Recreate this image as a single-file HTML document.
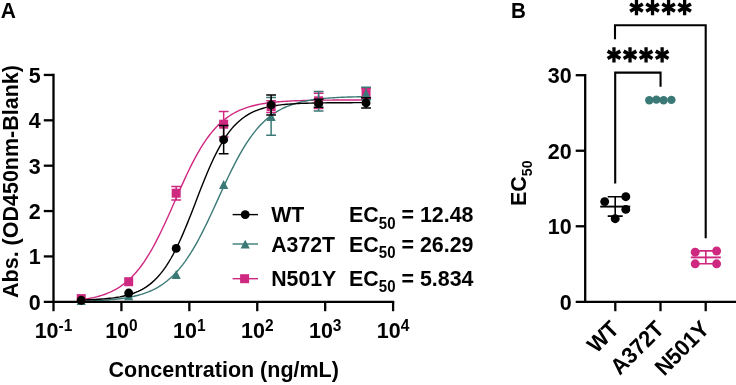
<!DOCTYPE html>
<html><head><meta charset="utf-8"><title>EC50 binding curves</title>
<style>html,body{margin:0;padding:0;background:#fff;}svg{display:block;will-change:transform;opacity:0.999;}</style>
</head><body>
<svg width="736" height="385" viewBox="0 0 736 385">
<rect width="736" height="385" fill="#fff"/>
<g font-family="'Liberation Sans', sans-serif" font-weight="bold" fill="#000">
<text transform="translate(0.8,17.9) scale(1,1.06)" font-size="21">A</text>
<text transform="translate(511.0,17.9) scale(1,1.06)" font-size="20.6">B</text>
<path d="M81.23,299.72 L83.26,299.43 L85.30,299.13 L87.33,298.79 L89.37,298.42 L91.40,298.02 L93.44,297.59 L95.47,297.11 L97.50,296.59 L99.54,296.02 L101.57,295.41 L103.61,294.73 L105.64,294.00 L107.68,293.21 L109.71,292.35 L111.75,291.41 L113.78,290.40 L115.82,289.30 L117.85,288.10 L119.89,286.82 L121.92,285.43 L123.95,283.93 L125.99,282.31 L128.02,280.57 L130.06,278.70 L132.09,276.70 L134.13,274.56 L136.16,272.27 L138.20,269.82 L140.23,267.23 L142.27,264.47 L144.30,261.56 L146.33,258.48 L148.37,255.24 L150.40,251.83 L152.44,248.27 L154.47,244.55 L156.51,240.69 L158.54,236.69 L160.58,232.56 L162.61,228.31 L164.65,223.95 L166.68,219.50 L168.72,214.99 L170.75,210.41 L172.78,205.80 L174.82,201.17 L176.85,196.54 L178.89,191.93 L180.92,187.36 L182.96,182.84 L184.99,178.40 L187.03,174.05 L189.06,169.81 L191.10,165.68 L193.13,161.69 L195.17,157.83 L197.20,154.13 L199.23,150.57 L201.27,147.18 L203.30,143.95 L205.34,140.88 L207.37,137.97 L209.41,135.23 L211.44,132.64 L213.48,130.21 L215.51,127.93 L217.55,125.79 L219.58,123.80 L221.62,121.94 L223.65,120.20 L225.68,118.59 L227.72,117.10 L229.75,115.72 L231.79,114.43 L233.82,113.25 L235.86,112.15 L237.89,111.14 L239.93,110.21 L241.96,109.35 L244.00,108.56 L246.03,107.84 L248.07,107.17 L250.10,106.55 L252.13,105.99 L254.17,105.47 L256.20,105.00 L258.24,104.56 L260.27,104.17 L262.31,103.80 L264.34,103.47 L266.38,103.16 L268.41,102.88 L270.45,102.62 L272.48,102.39 L274.51,102.17 L276.55,101.98 L278.58,101.80 L280.62,101.63 L282.65,101.48 L284.69,101.35 L286.72,101.22 L288.76,101.11 L290.79,101.00 L292.83,100.91 L294.86,100.82 L296.90,100.74 L298.93,100.67 L300.96,100.60 L303.00,100.54 L305.03,100.48 L307.07,100.43 L309.10,100.39 L311.14,100.35 L313.17,100.31 L315.21,100.27 L317.24,100.24 L319.28,100.21 L321.31,100.18 L323.35,100.16 L325.38,100.14 L327.41,100.12 L329.45,100.10 L331.48,100.08 L333.52,100.07 L335.55,100.05 L337.59,100.04 L339.62,100.03 L341.66,100.02 L343.69,100.01 L345.73,100.00 L347.76,99.99 L349.80,99.98 L351.83,99.97 L353.86,99.97 L355.90,99.96 L357.93,99.96 L359.97,99.95 L362.00,99.95 L364.04,99.94 L366.07,99.94" fill="none" stroke="#cf2881" stroke-width="1.4"/>
<path d="M81.23,301.21 L83.26,301.16 L85.30,301.10 L87.33,301.04 L89.37,300.97 L91.40,300.89 L93.44,300.81 L95.47,300.72 L97.50,300.62 L99.54,300.52 L101.57,300.40 L103.61,300.27 L105.64,300.14 L107.68,299.99 L109.71,299.82 L111.75,299.65 L113.78,299.45 L115.82,299.24 L117.85,299.01 L119.89,298.76 L121.92,298.49 L123.95,298.19 L125.99,297.87 L128.02,297.52 L130.06,297.14 L132.09,296.73 L134.13,296.28 L136.16,295.79 L138.20,295.27 L140.23,294.69 L142.27,294.07 L144.30,293.39 L146.33,292.66 L148.37,291.87 L150.40,291.02 L152.44,290.09 L154.47,289.09 L156.51,288.02 L158.54,286.85 L160.58,285.60 L162.61,284.25 L164.65,282.81 L166.68,281.25 L168.72,279.58 L170.75,277.80 L172.78,275.89 L174.82,273.86 L176.85,271.69 L178.89,269.38 L180.92,266.93 L182.96,264.34 L184.99,261.60 L187.03,258.71 L189.06,255.67 L191.10,252.48 L193.13,249.14 L195.17,245.66 L197.20,242.04 L199.23,238.29 L201.27,234.40 L203.30,230.40 L205.34,226.30 L207.37,222.09 L209.41,217.81 L211.44,213.45 L213.48,209.04 L215.51,204.60 L217.55,200.13 L219.58,195.66 L221.62,191.20 L223.65,186.77 L225.68,182.39 L227.72,178.06 L229.75,173.82 L231.79,169.66 L233.82,165.61 L235.86,161.67 L237.89,157.85 L239.93,154.16 L241.96,150.61 L244.00,147.20 L246.03,143.94 L248.07,140.83 L250.10,137.87 L252.13,135.05 L254.17,132.39 L256.20,129.87 L258.24,127.49 L260.27,125.26 L262.31,123.16 L264.34,121.19 L266.38,119.35 L268.41,117.62 L270.45,116.01 L272.48,114.51 L274.51,113.12 L276.55,111.82 L278.58,110.61 L280.62,109.50 L282.65,108.46 L284.69,107.50 L286.72,106.61 L288.76,105.79 L290.79,105.03 L292.83,104.33 L294.86,103.68 L296.90,103.08 L298.93,102.53 L300.96,102.03 L303.00,101.56 L305.03,101.13 L307.07,100.73 L309.10,100.37 L311.14,100.03 L313.17,99.72 L315.21,99.44 L317.24,99.18 L319.28,98.94 L321.31,98.72 L323.35,98.52 L325.38,98.33 L327.41,98.16 L329.45,98.01 L331.48,97.86 L333.52,97.73 L335.55,97.61 L337.59,97.50 L339.62,97.40 L341.66,97.31 L343.69,97.22 L345.73,97.14 L347.76,97.07 L349.80,97.00 L351.83,96.94 L353.86,96.89 L355.90,96.84 L357.93,96.79 L359.97,96.75 L362.00,96.71 L364.04,96.67 L366.07,96.64" fill="none" stroke="#3a7976" stroke-width="1.4"/>
<path d="M81.23,299.96 L83.26,299.91 L85.30,299.85 L87.33,299.78 L89.37,299.71 L91.40,299.63 L93.44,299.53 L95.47,299.43 L97.50,299.32 L99.54,299.19 L101.57,299.05 L103.61,298.90 L105.64,298.73 L107.68,298.54 L109.71,298.32 L111.75,298.09 L113.78,297.83 L115.82,297.54 L117.85,297.21 L119.89,296.86 L121.92,296.46 L123.95,296.02 L125.99,295.54 L128.02,295.00 L130.06,294.40 L132.09,293.74 L134.13,293.02 L136.16,292.21 L138.20,291.33 L140.23,290.35 L142.27,289.28 L144.30,288.10 L146.33,286.80 L148.37,285.38 L150.40,283.83 L152.44,282.12 L154.47,280.27 L156.51,278.25 L158.54,276.05 L160.58,273.67 L162.61,271.10 L164.65,268.33 L166.68,265.35 L168.72,262.15 L170.75,258.74 L172.78,255.12 L174.82,251.27 L176.85,247.22 L178.89,242.96 L180.92,238.50 L182.96,233.87 L184.99,229.07 L187.03,224.12 L189.06,219.05 L191.10,213.89 L193.13,208.65 L195.17,203.38 L197.20,198.09 L199.23,192.82 L201.27,187.61 L203.30,182.47 L205.34,177.43 L207.37,172.53 L209.41,167.78 L211.44,163.19 L213.48,158.80 L215.51,154.60 L217.55,150.61 L219.58,146.83 L221.62,143.27 L223.65,139.92 L225.68,136.79 L227.72,133.88 L229.75,131.17 L231.79,128.65 L233.82,126.33 L235.86,124.19 L237.89,122.22 L239.93,120.41 L241.96,118.75 L244.00,117.24 L246.03,115.86 L248.07,114.60 L250.10,113.45 L252.13,112.41 L254.17,111.46 L256.20,110.60 L258.24,109.82 L260.27,109.11 L262.31,108.48 L264.34,107.90 L266.38,107.38 L268.41,106.91 L270.45,106.48 L272.48,106.10 L274.51,105.75 L276.55,105.44 L278.58,105.16 L280.62,104.90 L282.65,104.67 L284.69,104.47 L286.72,104.28 L288.76,104.12 L290.79,103.97 L292.83,103.83 L294.86,103.71 L296.90,103.60 L298.93,103.50 L300.96,103.41 L303.00,103.33 L305.03,103.26 L307.07,103.20 L309.10,103.14 L311.14,103.09 L313.17,103.04 L315.21,103.00 L317.24,102.96 L319.28,102.93 L321.31,102.90 L323.35,102.87 L325.38,102.84 L327.41,102.82 L329.45,102.80 L331.48,102.78 L333.52,102.77 L335.55,102.75 L337.59,102.74 L339.62,102.73 L341.66,102.72 L343.69,102.71 L345.73,102.70 L347.76,102.69 L349.80,102.69 L351.83,102.68 L353.86,102.67 L355.90,102.67 L357.93,102.67 L359.97,102.66 L362.00,102.66 L364.04,102.65 L366.07,102.65" fill="none" stroke="#000000" stroke-width="1.4"/>
<rect x="76.73" y="294.10" width="9" height="9" fill="#cf2881"/>
<rect x="124.20" y="277.20" width="9" height="9" fill="#cf2881"/>
<path d="M176.18,186.40 V200.00 M171.28,186.40 H181.08 M171.28,200.00 H181.08" stroke="#cf2881" stroke-width="1.5" fill="none"/>
<rect x="171.68" y="188.70" width="9" height="9" fill="#cf2881"/>
<path d="M223.65,111.40 V137.00 M218.75,111.40 H228.55 M218.75,137.00 H228.55" stroke="#cf2881" stroke-width="1.5" fill="none"/>
<rect x="219.15" y="119.70" width="9" height="9" fill="#cf2881"/>
<path d="M271.12,100.80 V112.40 M266.22,100.80 H276.02 M266.22,112.40 H276.02" stroke="#cf2881" stroke-width="1.5" fill="none"/>
<rect x="266.62" y="102.10" width="9" height="9" fill="#cf2881"/>
<path d="M318.60,93.15 V108.45 M313.70,93.15 H323.50 M313.70,108.45 H323.50" stroke="#cf2881" stroke-width="1.5" fill="none"/>
<rect x="314.10" y="96.30" width="9" height="9" fill="#cf2881"/>
<path d="M366.07,88.60 V98.60 M361.17,88.60 H370.97 M361.17,98.60 H370.97" stroke="#cf2881" stroke-width="1.5" fill="none"/>
<rect x="361.57" y="89.10" width="9" height="9" fill="#cf2881"/>
<path d="M81.23,296.00 L85.83,304.90 L76.63,304.90 Z" fill="#3a7976"/>
<path d="M128.70,291.30 L133.30,300.20 L124.10,300.20 Z" fill="#3a7976"/>
<path d="M176.18,270.00 L180.78,278.90 L171.58,278.90 Z" fill="#3a7976"/>
<path d="M223.65,180.00 L228.25,188.90 L219.05,188.90 Z" fill="#3a7976"/>
<path d="M271.12,97.60 V135.20 M266.22,97.60 H276.02 M266.22,135.20 H276.02" stroke="#3a7976" stroke-width="1.5" fill="none"/>
<path d="M271.12,112.10 L275.72,121.00 L266.52,121.00 Z" fill="#3a7976"/>
<path d="M318.60,91.60 V111.10 M313.70,91.60 H323.50 M313.70,111.10 H323.50" stroke="#3a7976" stroke-width="1.5" fill="none"/>
<path d="M318.60,97.05 L323.20,105.95 L314.00,105.95 Z" fill="#3a7976"/>
<path d="M366.07,87.30 V99.70 M361.17,87.30 H370.97 M361.17,99.70 H370.97" stroke="#3a7976" stroke-width="1.5" fill="none"/>
<path d="M366.07,89.20 L370.67,98.10 L361.47,98.10 Z" fill="#3a7976"/>
<circle cx="81.23" cy="300.30" r="4.45" fill="#000000"/>
<circle cx="128.70" cy="293.05" r="4.45" fill="#000000"/>
<circle cx="176.18" cy="248.40" r="4.45" fill="#000000"/>
<path d="M223.65,125.60 V153.80 M218.75,125.60 H228.55 M218.75,153.80 H228.55" stroke="#000000" stroke-width="1.5" fill="none"/>
<circle cx="223.65" cy="139.70" r="4.45" fill="#000000"/>
<path d="M271.12,94.90 V114.90 M266.22,94.90 H276.02 M266.22,114.90 H276.02" stroke="#000000" stroke-width="1.5" fill="none"/>
<circle cx="271.12" cy="104.90" r="4.45" fill="#000000"/>
<path d="M318.60,99.30 V107.30 M313.70,99.30 H323.50 M313.70,107.30 H323.50" stroke="#000000" stroke-width="1.5" fill="none"/>
<circle cx="318.60" cy="103.30" r="4.45" fill="#000000"/>
<path d="M366.07,97.70 V108.10 M361.17,97.70 H370.97 M361.17,108.10 H370.97" stroke="#000000" stroke-width="1.5" fill="none"/>
<circle cx="366.07" cy="102.90" r="4.45" fill="#000000"/>
<path d="M53.5,73.80 V301.8 M43.8,301.8 H394.25" stroke="#000" stroke-width="2.3" fill="none"/>
<path d="M43.8,256.43 H53.5" stroke="#000" stroke-width="2.3"/>
<path d="M43.8,211.06 H53.5" stroke="#000" stroke-width="2.3"/>
<path d="M43.8,165.69 H53.5" stroke="#000" stroke-width="2.3"/>
<path d="M43.8,120.32 H53.5" stroke="#000" stroke-width="2.3"/>
<path d="M43.8,74.95 H53.5" stroke="#000" stroke-width="2.3"/>
<path d="M53.50,301.8 V311.2" stroke="#000" stroke-width="2.3"/>
<path d="M121.42,301.8 V311.2" stroke="#000" stroke-width="2.3"/>
<path d="M189.34,301.8 V311.2" stroke="#000" stroke-width="2.3"/>
<path d="M257.26,301.8 V311.2" stroke="#000" stroke-width="2.3"/>
<path d="M325.18,301.8 V311.2" stroke="#000" stroke-width="2.3"/>
<path d="M393.10,301.8 V311.2" stroke="#000" stroke-width="2.3"/>
<text transform="translate(40.8,309.7) scale(1,1.06)" font-size="21.5" text-anchor="end">0</text>
<text transform="translate(40.8,264.33) scale(1,1.06)" font-size="21.5" text-anchor="end">1</text>
<text transform="translate(40.8,218.96) scale(1,1.06)" font-size="21.5" text-anchor="end">2</text>
<text transform="translate(40.8,173.59) scale(1,1.06)" font-size="21.5" text-anchor="end">3</text>
<text transform="translate(40.8,128.22) scale(1,1.06)" font-size="21.5" text-anchor="end">4</text>
<text transform="translate(40.8,82.85) scale(1,1.06)" font-size="21.5" text-anchor="end">5</text>
<text transform="translate(34.65,337.8) scale(1,1.06)" font-size="21.5">10<tspan font-size="15.5" dy="-6.3">-1</tspan></text>
<text transform="translate(105.17,337.8) scale(1,1.06)" font-size="21.5">10<tspan font-size="15.5" dy="-6.3">0</tspan></text>
<text transform="translate(173.09,337.8) scale(1,1.06)" font-size="21.5">10<tspan font-size="15.5" dy="-6.3">1</tspan></text>
<text transform="translate(241.01,337.8) scale(1,1.06)" font-size="21.5">10<tspan font-size="15.5" dy="-6.3">2</tspan></text>
<text transform="translate(308.93,337.8) scale(1,1.06)" font-size="21.5">10<tspan font-size="15.5" dy="-6.3">3</tspan></text>
<text transform="translate(376.85,337.8) scale(1,1.06)" font-size="21.5">10<tspan font-size="15.5" dy="-6.3">4</tspan></text>
<text transform="translate(223.7,376.7) scale(1,1.06)" font-size="21.5" text-anchor="middle">Concentration (ng/mL)</text>
<text transform="translate(17.8,181.5) rotate(-90) scale(1,1.06)" font-size="21.5" text-anchor="middle">Abs. (OD450nm-Blank)</text>
<path d="M232.6,214.6 H258" stroke="#000000" stroke-width="1.4"/>
<circle cx="245.20" cy="214.60" r="4.45" fill="#000000"/>
<text transform="translate(271.2,222.4) scale(1,1.06)" font-size="21.3">WT</text>
<text transform="translate(349.1,222.4) scale(1,1.06)" font-size="21.4">EC<tspan font-size="15" dy="5.8">50</tspan><tspan dy="-5.8"> = 12.48</tspan></text>
<path d="M232.6,244.0 H258" stroke="#3a7976" stroke-width="1.4"/>
<path d="M245.20,239.70 L249.80,248.60 L240.60,248.60 Z" fill="#3a7976"/>
<text transform="translate(271.2,251.7) scale(1,1.06)" font-size="21.3">A372T</text>
<text transform="translate(349.1,251.7) scale(1,1.06)" font-size="21.4">EC<tspan font-size="15" dy="5.8">50</tspan><tspan dy="-5.8"> = 26.29</tspan></text>
<path d="M232.6,278.7 H258" stroke="#cf2881" stroke-width="1.4"/>
<rect x="240.10" y="274.20" width="9" height="9" fill="#cf2881"/>
<text transform="translate(271.2,286.0) scale(1,1.06)" font-size="21.3">N501Y</text>
<text transform="translate(349.1,286.0) scale(1,1.06)" font-size="21.4">EC<tspan font-size="15" dy="5.8">50</tspan><tspan dy="-5.8"> = 5.834</tspan></text>
<path d="M585.2,74.06 V301.8 M575.7,301.8 H737" stroke="#000" stroke-width="2.3" fill="none"/>
<path d="M575.7,226.27 H585.2" stroke="#000" stroke-width="2.3"/>
<path d="M575.7,150.74 H585.2" stroke="#000" stroke-width="2.3"/>
<path d="M575.7,75.21 H585.2" stroke="#000" stroke-width="2.3"/>
<text transform="translate(571.6,309.7) scale(1,1.06)" font-size="21.5" text-anchor="end">0</text>
<text transform="translate(571.6,234.17) scale(1,1.06)" font-size="21.5" text-anchor="end">10</text>
<text transform="translate(571.6,158.64) scale(1,1.06)" font-size="21.5" text-anchor="end">20</text>
<text transform="translate(571.6,83.11) scale(1,1.06)" font-size="21.5" text-anchor="end">30</text>
<path d="M615.3,301.8 V311.2" stroke="#000" stroke-width="2.3"/>
<path d="M660.5,301.8 V311.2" stroke="#000" stroke-width="2.3"/>
<path d="M705.7,301.8 V311.2" stroke="#000" stroke-width="2.3"/>
<text transform="translate(620.2,330.4) rotate(-45) scale(1,1.06)" font-size="21.5" text-anchor="end">WT</text>
<text transform="translate(665.4,330.4) rotate(-45) scale(1,1.06)" font-size="21.5" text-anchor="end">A372T</text>
<text transform="translate(710.6,330.4) rotate(-45) scale(1,1.06)" font-size="21.5" text-anchor="end">N501Y</text>
<text transform="translate(525.7,206.0) rotate(-90) scale(1,1.06)" font-size="21.5">EC<tspan font-size="14" dy="5.8">50</tspan></text>
<path d="M615.0,39.2 V25.2 H705.7 V238.2" stroke="#000" stroke-width="2.1" fill="none"/>
<path d="M615.2,183.5 V72.6 H660.55 V86.8" stroke="#000" stroke-width="2.1" fill="none"/>
<path d="M636.47,0.00 V15.20 M652.52,0.00 V15.20 M668.57,0.00 V15.20 M684.62,0.00 V15.20" stroke="#000" stroke-width="3.3" fill="none"/>
<path d="M630.15,3.95 L642.80,11.25 M630.15,11.25 L642.80,3.95 M646.20,3.95 L658.85,11.25 M646.20,11.25 L658.85,3.95 M662.25,3.95 L674.90,11.25 M662.25,11.25 L674.90,3.95 M678.30,3.95 L690.95,11.25 M678.30,11.25 L690.95,3.95" stroke="#000" stroke-width="3.6" fill="none"/>
<path d="M613.97,47.20 V62.40 M630.02,47.20 V62.40 M646.07,47.20 V62.40 M662.12,47.20 V62.40" stroke="#000" stroke-width="3.3" fill="none"/>
<path d="M607.65,51.15 L620.30,58.45 M607.65,58.45 L620.30,51.15 M623.70,51.15 L636.35,58.45 M623.70,58.45 L636.35,51.15 M639.75,51.15 L652.40,58.45 M639.75,58.45 L652.40,51.15 M655.80,51.15 L668.45,58.45 M655.80,58.45 L668.45,51.15" stroke="#000" stroke-width="3.6" fill="none"/>
<path d="M600.2,206.6 H630.2" stroke="#000000" stroke-width="1.9" fill="none"/>
<path d="M615.2,196.7 V216.1 M607.7,196.7 H622.7 M607.7,216.1 H622.7" stroke="#000000" stroke-width="1.6" fill="none"/>
<circle cx="604.7" cy="201.6" r="4.45" fill="#000000"/>
<circle cx="625.8" cy="196.7" r="4.45" fill="#000000"/>
<circle cx="625.8" cy="209.4" r="4.45" fill="#000000"/>
<circle cx="615.2" cy="218.7" r="4.45" fill="#000000"/>
<circle cx="649.3" cy="100.3" r="4.2" fill="#3a7976"/>
<circle cx="656.4" cy="99.6" r="4.2" fill="#3a7976"/>
<circle cx="663.6" cy="100.3" r="4.2" fill="#3a7976"/>
<circle cx="671.4" cy="99.9" r="4.2" fill="#3a7976"/>
<path d="M690.8,257.4 H720.8" stroke="#cf2881" stroke-width="1.9" fill="none"/>
<path d="M705.8,250.9 V263.8 M698.3,250.9 H713.3 M698.3,263.8 H713.3" stroke="#cf2881" stroke-width="1.6" fill="none"/>
<circle cx="695.2" cy="252.2" r="4.45" fill="#cf2881"/>
<circle cx="716.6" cy="251.0" r="4.45" fill="#cf2881"/>
<circle cx="695.2" cy="263.8" r="4.45" fill="#cf2881"/>
<circle cx="716.6" cy="263.8" r="4.45" fill="#cf2881"/>
</g></svg>
</body></html>
